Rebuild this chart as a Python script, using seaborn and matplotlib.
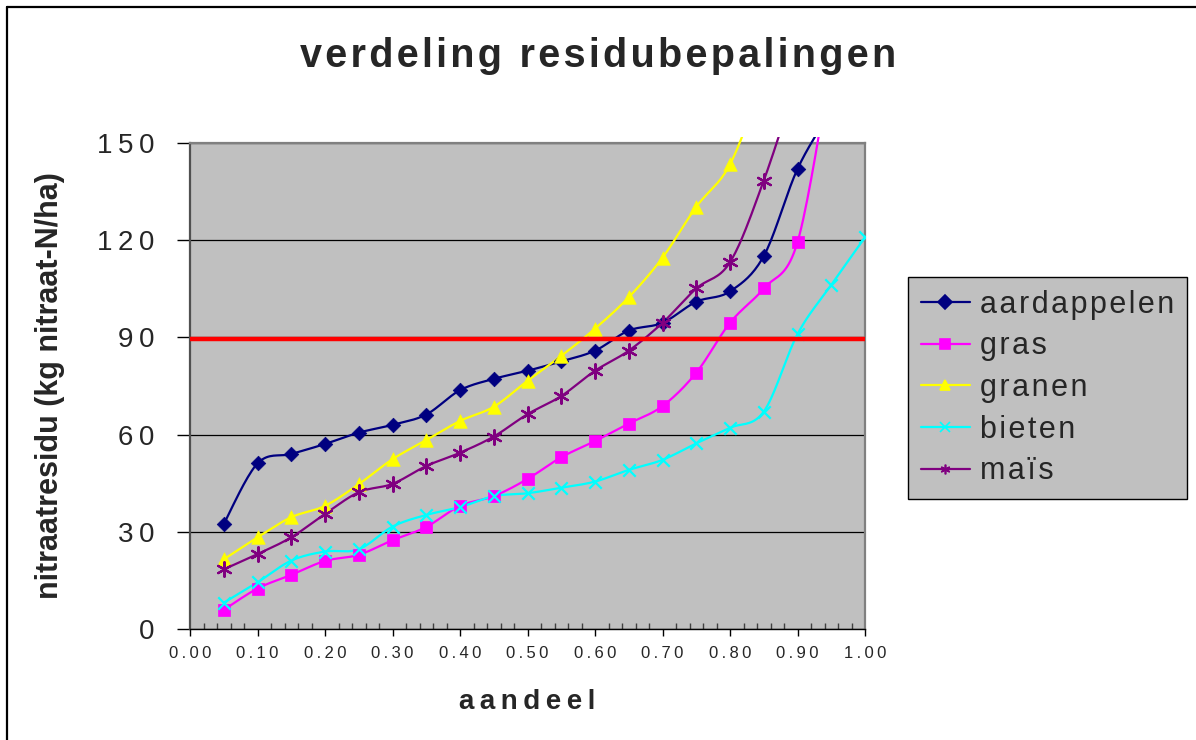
import numpy as np
import pandas as pd
import matplotlib
matplotlib.use("Agg")
import matplotlib.pyplot as plt
import seaborn as sns
from matplotlib.lines import Line2D
from matplotlib.patches import Rectangle
from matplotlib.ticker import MultipleLocator, FixedLocator

# ---------------- data ----------------
aandeel = [0.05, 0.10, 0.15, 0.20, 0.25, 0.30, 0.35, 0.40, 0.45, 0.50,
           0.55, 0.60, 0.65, 0.70, 0.75, 0.80, 0.85, 0.90, 0.95, 1.00]
aardappelen = [32.4, 51.1, 54.0, 57.1, 60.6, 63.0, 66.2, 73.7, 77.2, 79.7,
               82.6, 85.9, 92.1, 94.5, 101.0, 104.2, 115.1, 142.0, 160.0]
gras = [5.9, 12.5, 16.7, 21.0, 22.9, 27.4, 31.5, 38.0, 41.0, 46.3,
        53.0, 58.0, 63.4, 68.8, 79.1, 94.5, 105.1, 119.4, 175.0]
granen = [21.5, 28.3, 34.5, 38.0, 44.7, 52.4, 58.3, 64.2, 68.6, 76.6,
          84.3, 92.7, 102.4, 114.6, 130.3, 143.4, 170.0]
bieten = [8.1, 14.4, 21.1, 23.9, 24.6, 31.6, 35.2, 37.6, 41.0, 41.9,
          43.6, 45.5, 49.1, 52.2, 57.3, 62.1, 67.1, 91.0, 106.2, 120.9]
mais = [18.4, 23.1, 28.3, 35.5, 42.2, 44.8, 50.3, 54.4, 59.4, 66.3,
        71.9, 79.7, 85.9, 94.5, 105.1, 113.2, 138.4, 170.0]

series_names = ["aardappelen", "gras", "granen", "bieten", "maïs"]
series_values = [aardappelen, gras, granen, bieten, mais]
norm_value = 89.5

y_ticks = [0, 30, 60, 90, 120, 150]
x_ticks = [0.0, 0.1, 0.2, 0.3, 0.4, 0.5, 0.6, 0.7, 0.8, 0.9, 1.0]

title = "verdeling residubepalingen"
x_label = "aandeel"
y_label = "nitraatresidu (kg nitraat-N/ha)"

# ---------------- style ----------------
colors = ["#000080", "#FF00FF", "#FFFF00", "#00FFFF", "#800080"]
markers = ["D", "s", "^", "x", (6, 2, 0)]
msizes = [55, 80, 95, 80, 110]

sns.set_style("white")
plt.rcParams["font.family"] = ["Liberation Sans", "DejaVu Sans"]

THIN = "\u2009"
HAIR = "\u200a"


def spaced(s, sep=THIN):
    return sep.join(list(s))


def smooth(x, y, n=20):
    x = np.asarray(x, float)
    y = np.asarray(y, float)
    P = np.column_stack([x, y])
    out = [P[0]]
    m = len(P)
    for i in range(m - 1):
        p0 = P[i - 1] if i > 0 else P[i]
        p1 = P[i]
        p2 = P[i + 1]
        p3 = P[i + 2] if i + 2 < m else P[i + 1]
        c1 = p1 + (p2 - p0) / 6.0
        c2 = p2 - (p3 - p1) / 6.0
        t = np.linspace(0, 1, n)[1:, None]
        b = ((1 - t) ** 3) * p1 + 3 * ((1 - t) ** 2) * t * c1 + 3 * (1 - t) * t ** 2 * c2 + t ** 3 * p2
        out.extend(b)
    out = np.array(out)
    return out[:, 0], out[:, 1]


W, H = 1196, 740
fig = plt.figure(figsize=(W / 100, H / 100), dpi=100)
fig.patch.set_facecolor("white")

L, R, T, B = 190, 865, 143, 629
ax = fig.add_axes([L / W, 1 - B / H, (R - L) / W, (B - T) / H])
ax.set_facecolor("#C0C0C0")

clip = Rectangle((0, 0), 1, 1.012, transform=ax.transAxes, facecolor="none", edgecolor="none")
ax.add_patch(clip)

for name, vals, col, mk, ms in zip(series_names, series_values, colors, markers, msizes):
    xs = aandeel[:len(vals)]
    sx, sy = smooth(xs, vals)
    df_line = pd.DataFrame({"x": sx, "y": sy})
    sns.lineplot(data=df_line, x="x", y="y", sort=False, estimator=None,
                 color=col, lw=1.6, ax=ax, zorder=3)
    df_pts = pd.DataFrame({"x": xs, "y": vals})
    if mk in ("x",) or isinstance(mk, tuple):
        sns.scatterplot(data=df_pts, x="x", y="y", marker=mk, s=ms, color=col,
                        linewidth=1.6, ax=ax, zorder=4)
    else:
        sns.scatterplot(data=df_pts, x="x", y="y", marker=mk, s=ms, color=col,
                        edgecolor=col, linewidth=0.5, ax=ax, zorder=4)

for ln in ax.lines:
    ln.set_clip_path(clip)
for coll in ax.collections:
    coll.set_clip_path(clip)

ax.axhline(norm_value, color="#FF0000", lw=3.2, zorder=5)

ax.set_xlim(0, 1.0)
ax.set_ylim(0, 150)
ax.yaxis.set_major_locator(FixedLocator(y_ticks))
ax.xaxis.set_major_locator(FixedLocator(x_ticks))
ax.xaxis.set_minor_locator(MultipleLocator(0.02))
ax.set_yticklabels([spaced(str(v)) for v in y_ticks])
ax.set_xticklabels([spaced(f"{v:.2f}") for v in x_ticks])
ax.grid(False)
ax.yaxis.grid(True, color="black", lw=0.9, zorder=1)
ax.set_axisbelow(True)
ax.set_xlabel("")
ax.set_ylabel("")

ax.tick_params(axis="y", which="major", direction="out", length=9.4, width=1,
               color="black", labelsize=20, pad=16, left=True)
ax.tick_params(axis="x", which="major", direction="out", length=5, width=1,
               color="black", labelsize=12, pad=7, bottom=True)
ax.tick_params(axis="x", which="minor", direction="in", length=4, width=1,
               color="#404040", bottom=True)

for s in ["top", "right"]:
    ax.spines[s].set_color("#808080")
    ax.spines[s].set_linewidth(1.6)
ax.spines["left"].set_color("#505050")
ax.spines["left"].set_linewidth(1.6)
ax.spines["bottom"].set_color("black")
ax.spines["bottom"].set_linewidth(1.0)

# texts
fig.text(0.5, 1 - 56 / H, spaced(title, HAIR), ha="center", va="center",
         fontsize=28.5, fontweight="bold")
fig.text(527.5 / W, 1 - 702 / H, spaced(x_label), ha="center", va="center",
         fontsize=20, fontweight="bold")
fig.text(50 / W, 1 - 386 / H, y_label, ha="center", va="center",
         rotation=90, fontsize=22, fontweight="bold")

# legend
handles = []
for name, col, mk in zip(series_names, colors, markers):
    handles.append(Line2D([], [], color=col, lw=1.6, marker=mk, markersize=7,
                          markeredgecolor=col, markerfacecolor=col, markeredgewidth=1.2))
leg = ax.legend(handles, [spaced(n, HAIR) for n in series_names], loc="upper left",
                bbox_to_anchor=(908 / W, 1 - 277 / H), bbox_transform=fig.transFigure,
                frameon=True, fancybox=False, framealpha=1, facecolor="#C0C0C0",
                edgecolor="black", fontsize=22, handlelength=1.6, handletextpad=0.33,
                labelspacing=0.38, borderpad=0.42, borderaxespad=0)
leg.get_frame().set_linewidth(1.0)

# outer frame
fig.add_artist(Line2D([7 / W, 7 / W], [0, 1 - 7 / H], color="black", lw=1.6,
                      transform=fig.transFigure))
fig.add_artist(Line2D([7 / W, 1], [1 - 7 / H, 1 - 7 / H], color="black", lw=1.6,
                      transform=fig.transFigure))

fig.savefig("out.png", dpi=100)
